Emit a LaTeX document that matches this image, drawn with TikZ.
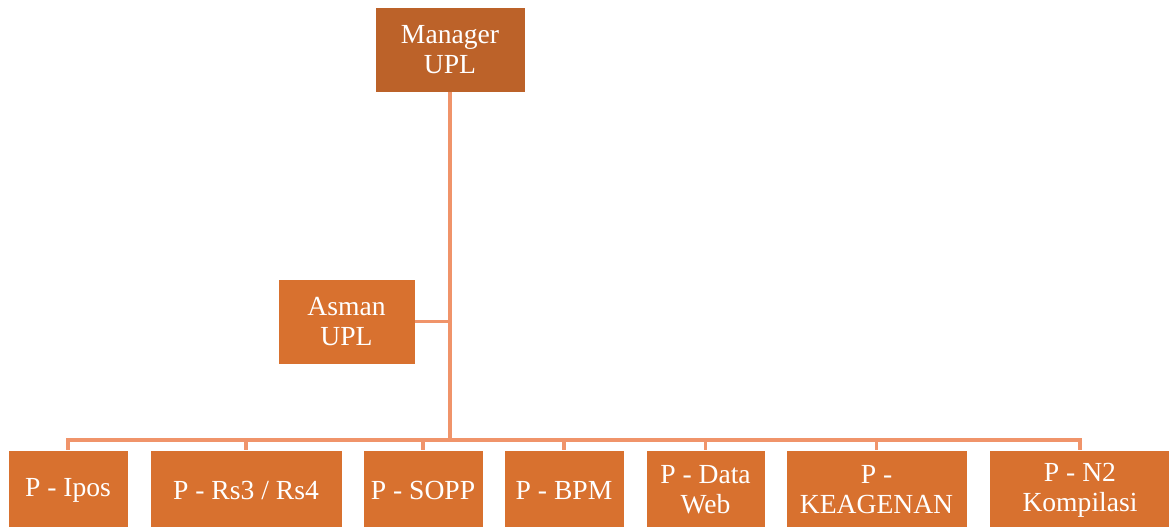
\documentclass[tikz,border=0pt]{standalone}
\usepackage{fontspec}
\setmainfont{Liberation Serif}
\usetikzlibrary{positioning}
\definecolor{mgrbrown}{HTML}{BC6229}
\definecolor{unitorange}{HTML}{D8712F}
\definecolor{linkorange}{HTML}{F0946A}

\begin{document}
\begin{tikzpicture}[x=0.75pt, y=-0.75pt,
    unitbox/.style={fill=unitorange, draw=white, line width=0.6pt, text=white, align=center,
        inner sep=0pt, minimum height=60pt, font=\fontsize{20.7}{22.5}\selectfont},
    link/.style={draw=linkorange, line width=2.5pt}]
    \useasboundingbox (0,0) rectangle (1169,526);
    \node[unitbox, fill=mgrbrown, minimum width=112.5pt, minimum height=63.75pt] (manager) at (450,49.5) {Manager\\UPL};
    \node[unitbox, minimum width=102.75pt, minimum height=63.75pt] (asman) at (346.5,321.5) {Asman\\UPL};
    \node[unitbox, minimum width=90pt] (ipos) at (68,490) {P - Ipos};
    \node[unitbox, minimum width=144pt] (rs) at (246,490) {P - Rs3 / Rs4};
    \node[unitbox, minimum width=90pt] (sopp) at (423,490) {P - SOPP};
    \node[unitbox, minimum width=90pt] (bpm) at (564,490) {P - BPM};
    \node[unitbox, minimum width=89.25pt] (dataweb) at (705.5,490) {P - Data\\Web};
    \node[unitbox, minimum width=135.75pt] (keagenan) at (876.5,490) {P -\\KEAGENAN};
    \node[unitbox, minimum width=136.5pt] (kompilasi) at (1080,490) {P - N2\\Kompilasi};
    \coordinate (bus) at (450,440);
    \draw[link] (manager.south) -- (bus);
    \draw[link] (asman.east) -- (asman.east -| bus);
    \foreach \unit in {ipos,rs,sopp,bpm,dataweb,keagenan,kompilasi}
        \draw[link] (bus) -| (\unit.north);
\end{tikzpicture}
\end{document}
